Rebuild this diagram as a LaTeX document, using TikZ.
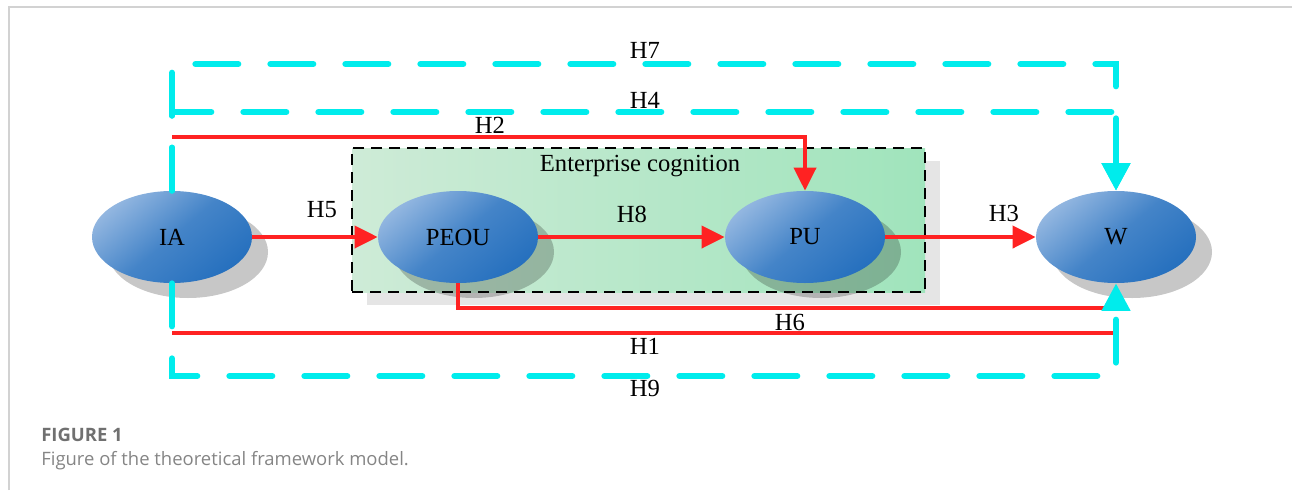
\documentclass[tikz,border=0pt]{standalone}
\usepackage{fontspec}
\setmainfont{Liberation Serif}
\newfontfamily\capfont{Open Sans}
\usepackage{xcolor}
\usetikzlibrary{arrows.meta, shapes.geometric, positioning}

\definecolor{ellLight}{RGB}{146,182,224}
\definecolor{ellMid}{RGB}{68,132,200}
\definecolor{ellDark}{RGB}{38,112,190}
\definecolor{boxLeft}{RGB}{206,235,215}
\definecolor{boxRight}{RGB}{160,228,188}
\definecolor{hypRed}{RGB}{255,34,34}
\definecolor{hypCyan}{RGB}{0,236,236}
\definecolor{capGray}{RGB}{112,112,112}

\tikzset{
  construct/.style={ellipse, minimum width=3.2cm, minimum height=1.84cm, inner sep=0pt,
    top color=ellLight, bottom color=ellDark, middle color=ellMid, shading angle=40,
    font=\fontsize{14}{16}\selectfont},
  hyp/.style={font=\fontsize{14}{16}\selectfont, inner sep=1pt},
  redline/.style={draw=hypRed, line width=1.8pt},
  redarrow/.style={redline, line width=2.2pt, -{Triangle[length=0.46cm, width=0.44cm]}},
  cyanpath/.style={draw=hypCyan, line width=3.4pt, line cap=round,
    dash pattern=on 0.86cm off 0.64cm, -{Triangle[length=0.55cm, width=0.55cm]}}
}

\begin{document}
\begin{tikzpicture}
    \useasboundingbox (0,0) rectangle (25.84,9.8);

    % Figure frame
    \draw[gray!35, line width=0.8pt] (0.18,0) -- (0.18,9.66) -- (25.84,9.66);

    % Enterprise cognition box (with shadow)
    \fill[black, opacity=0.1] (7.34,3.7) rectangle (18.8,6.58);
    \node[draw, dash pattern=on 0.22cm off 0.14cm, line width=1.1pt,
          left color=boxLeft, right color=boxRight,
          minimum width=11.46cm, minimum height=2.88cm] (cog) at (12.77,5.4) {};
    \node[hyp] (cogtitle) at (12.8,6.48) {Enterprise cognition};

    % Constructs
    \foreach \name/\x in {IA/3.44, PEOU/9.16, PU/16.1, W/22.32} {
        \fill[black, opacity=0.22] (\x+0.32,5.06-0.3) ellipse (1.6cm and 0.92cm);
        \node[construct] (\name) at (\x,5.06) {\name};
    }

    % Corner points of the long paths
    \coordinate (h2a) at (3.44,7.06);
    \coordinate (h6b) at (22.2,3.64);
    \coordinate (h1a) at (3.44,3.14);
    \coordinate (h1b) at (22.26,3.14);
    \coordinate (h7a) at (3.44,8.52);
    \coordinate (h7b) at (22.32,8.52);
    \coordinate (h4a) at (3.44,7.56);
    \coordinate (h4b) at (22.32,7.56);
    \coordinate (h9a) at (3.44,2.28);
    \coordinate (h9b) at (22.32,2.28);

    % Direct effects
    \draw[redarrow] (IA) -- (PEOU);
    \draw[redarrow] (PEOU) -- (PU);
    \draw[redarrow] (PU) -- (W);
    \draw[redarrow] (h2a) -| (PU);
    \draw[redline] (PEOU.south) |- (h6b);
    \draw[redline] (h1a) -- (h1b);

    % Mediated effects
    \draw[cyanpath] (IA.north) -- (h7a) -- (h7b) -- (W.north);
    \draw[cyanpath] (IA.north) -- (h4a) -- (h4b) -- (W.north);
    \draw[cyanpath] (IA.south) -- (h9a) -- (h9b) -- (W.south);

    % Hypothesis labels
    \foreach \lbl/\x/\y in {H7/12.9/8.8, H4/12.9/7.8, H2/9.8/7.3, H5/6.44/5.6,
                            H8/12.64/5.52, H3/20.08/5.54, H6/15.8/3.36,
                            H1/12.9/2.88, H9/12.9/2.04} {
        \node[hyp] (l\lbl) at (\x,\y) {\lbl};
    }

    % Caption
    \node[anchor=west, inner sep=0pt, text=capGray, font=\capfont\bfseries\fontsize{10.5}{13}\selectfont]
        (capnum) at (0.82,1.1) {FIGURE 1};
    \node[anchor=west, inner sep=0pt, text=capGray!85, font=\capfont\fontsize{10.5}{13}\selectfont]
        (captext) at (0.82,0.58) {Figure of the theoretical framework model.};
\end{tikzpicture}
\end{document}
